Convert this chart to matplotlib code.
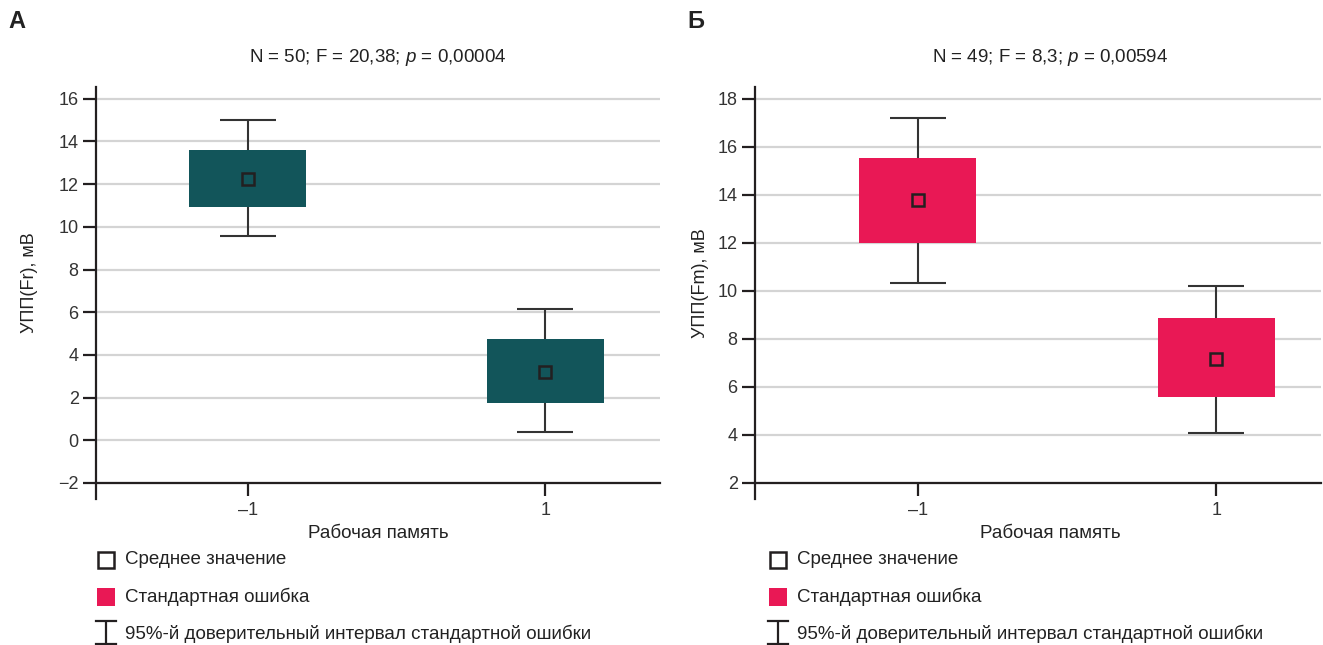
import matplotlib
matplotlib.use("Agg")
import matplotlib.pyplot as plt
from matplotlib.patches import Rectangle

plt.rcParams['font.family'] = ['Liberation Sans', 'DejaVu Sans']
plt.rcParams['mathtext.fontset'] = 'custom'
plt.rcParams['mathtext.it'] = 'Liberation Sans:italic'
plt.rcParams['mathtext.rm'] = 'Liberation Sans'

# ---- data ----
groups = [-1, 1]
group_labels = ['–1', '1']

a_mean = [12.25, 3.22]
a_se_lo = [10.95, 1.77]
a_se_hi = [13.60, 4.73]
a_ci_lo = [9.57, 0.40]
a_ci_hi = [15.02, 6.15]
a_yticks = [-2, 0, 2, 4, 6, 8, 10, 12, 14, 16]

b_mean = [13.77, 7.17]
b_se_lo = [12.00, 5.60]
b_se_hi = [15.55, 8.88]
b_ci_lo = [10.35, 4.08]
b_ci_hi = [17.20, 10.20]
b_yticks = [2, 4, 6, 8, 10, 12, 14, 16, 18]

titles = ['N = 50; F = 20,38; $\\mathit{p}$ = 0,00004',
          'N = 49; F = 8,3; $\\mathit{p}$ = 0,00594']
ylabels = ['УПП(Fr), мВ', 'УПП(Fm), мВ']
xlabel = 'Рабочая память'
panel_letters = ['А', 'Б']
legend_texts = ['Среднее значение', 'Стандартная ошибка',
                '95%-й доверительный интервал стандартной ошибки']

TEAL = '#12555a'
PINK = '#e91855'
DARK = '#231f20'
GRID = '#d4d4d4'
TXT = '#222222'

W, H = 1323, 645
fig = plt.figure(figsize=(W / 100, H / 100), dpi=100)


def px_ax(x0, x1, ytop, ybot):
    return [x0 / W, 1 - ybot / H, (x1 - x0) / W, (ybot - ytop) / H]


def panel(rect, mean, se_lo, se_hi, ci_lo, ci_hi, yticks, ylim, xlim, color,
          title, ylabel, title_x, ylabel_x):
    ax = fig.add_axes(rect)
    ax.set_xlim(*xlim)
    ax.set_ylim(*ylim)
    for t in yticks:
        ax.axhline(t, color=GRID, lw=1.6, zorder=0)
    err_lo = [m - l for m, l in zip(mean, ci_lo)]
    err_hi = [h - m for m, h in zip(mean, ci_hi)]
    ax.errorbar(groups, mean, yerr=[err_lo, err_hi], fmt='none',
                ecolor='#333333', elinewidth=1.5, capsize=20.5,
                capthick=1.5, zorder=2)
    heights = [h - l for l, h in zip(se_lo, se_hi)]
    ax.bar(groups, heights, bottom=se_lo, width=0.785, color=color,
           zorder=3, linewidth=0)
    ax.plot(groups, mean, ls='none', marker='s', markersize=8,
            mfc='none', mec=DARK, mew=1.8, zorder=4)
    for s in ['top', 'right']:
        ax.spines[s].set_visible(False)
    ax.spines['bottom'].set_position(('data', yticks[0]))
    for s in ['left', 'bottom']:
        ax.spines[s].set_color(DARK)
        ax.spines[s].set_linewidth(1.6)
    ax.set_yticks(yticks)
    ax.set_xticks(groups)
    ax.set_xticklabels(group_labels)
    ax.tick_params(axis='both', length=9.5, width=1.6, color=DARK,
                   labelsize=13, labelcolor='#333333', pad=3)
    ax.tick_params(axis='x', pad=4)
    fig.text(title_x / W, 1 - 58 / H, title, ha='center', va='center',
             fontsize=13.5, color=TXT)
    fig.text(title_x / W, 1 - 534 / H, xlabel, ha='center', va='center',
             fontsize=13.5, color=TXT)
    fig.text(ylabel_x / W, 1 - 283 / H, ylabel,
             rotation=90, ha='center', va='center', fontsize=13,
             color=TXT)
    return ax


ax1 = panel(px_ax(96, 660, 87, 499), a_mean, a_se_lo, a_se_hi, a_ci_lo,
            a_ci_hi, a_yticks, (-2.75, 16.55), (-2.02, 1.77), TEAL,
            titles[0], ylabels[0], 378, 30)
ax2 = panel(px_ax(755, 1321, 87, 499), b_mean, b_se_lo, b_se_hi, b_ci_lo,
            b_ci_hi, b_yticks, (1.33, 18.5), (-2.09, 1.70), PINK,
            titles[1], ylabels[1], 1050, 701)

fig.text(8 / W, 1 - 21 / H, panel_letters[0], fontsize=17,
         fontweight='bold', va='center', ha='left', color=TXT)
fig.text(687 / W, 1 - 21 / H, panel_letters[1], fontsize=17,
         fontweight='bold', va='center', ha='left', color=TXT)

# legends (overlay in pixel coordinates)
ov = fig.add_axes([0, 0, 1, 1], zorder=10)
ov.set_xlim(0, W)
ov.set_ylim(H, 0)
ov.axis('off')
for cx, tx in [(106, 125), (778, 797)]:
    ov.add_patch(Rectangle((cx - 8, 560 - 8), 16, 16, fill=False,
                           ec=DARK, lw=1.8))
    ov.add_patch(Rectangle((cx - 9, 597 - 9), 18, 18, fc=PINK, ec='none'))
    ov.plot([cx, cx], [621, 644], color=DARK, lw=1.6, solid_capstyle='butt')
    ov.plot([cx - 10, cx + 10], [621, 621], color=DARK, lw=1.6)
    ov.plot([cx - 10, cx + 10], [643.5, 643.5], color=DARK, lw=1.6)
    for y, t in zip([560, 597, 634], legend_texts):
        ov.text(tx, y, t, fontsize=13.5, va='center', ha='left',
                color=TXT)

fig.savefig('out.png', dpi=100)
